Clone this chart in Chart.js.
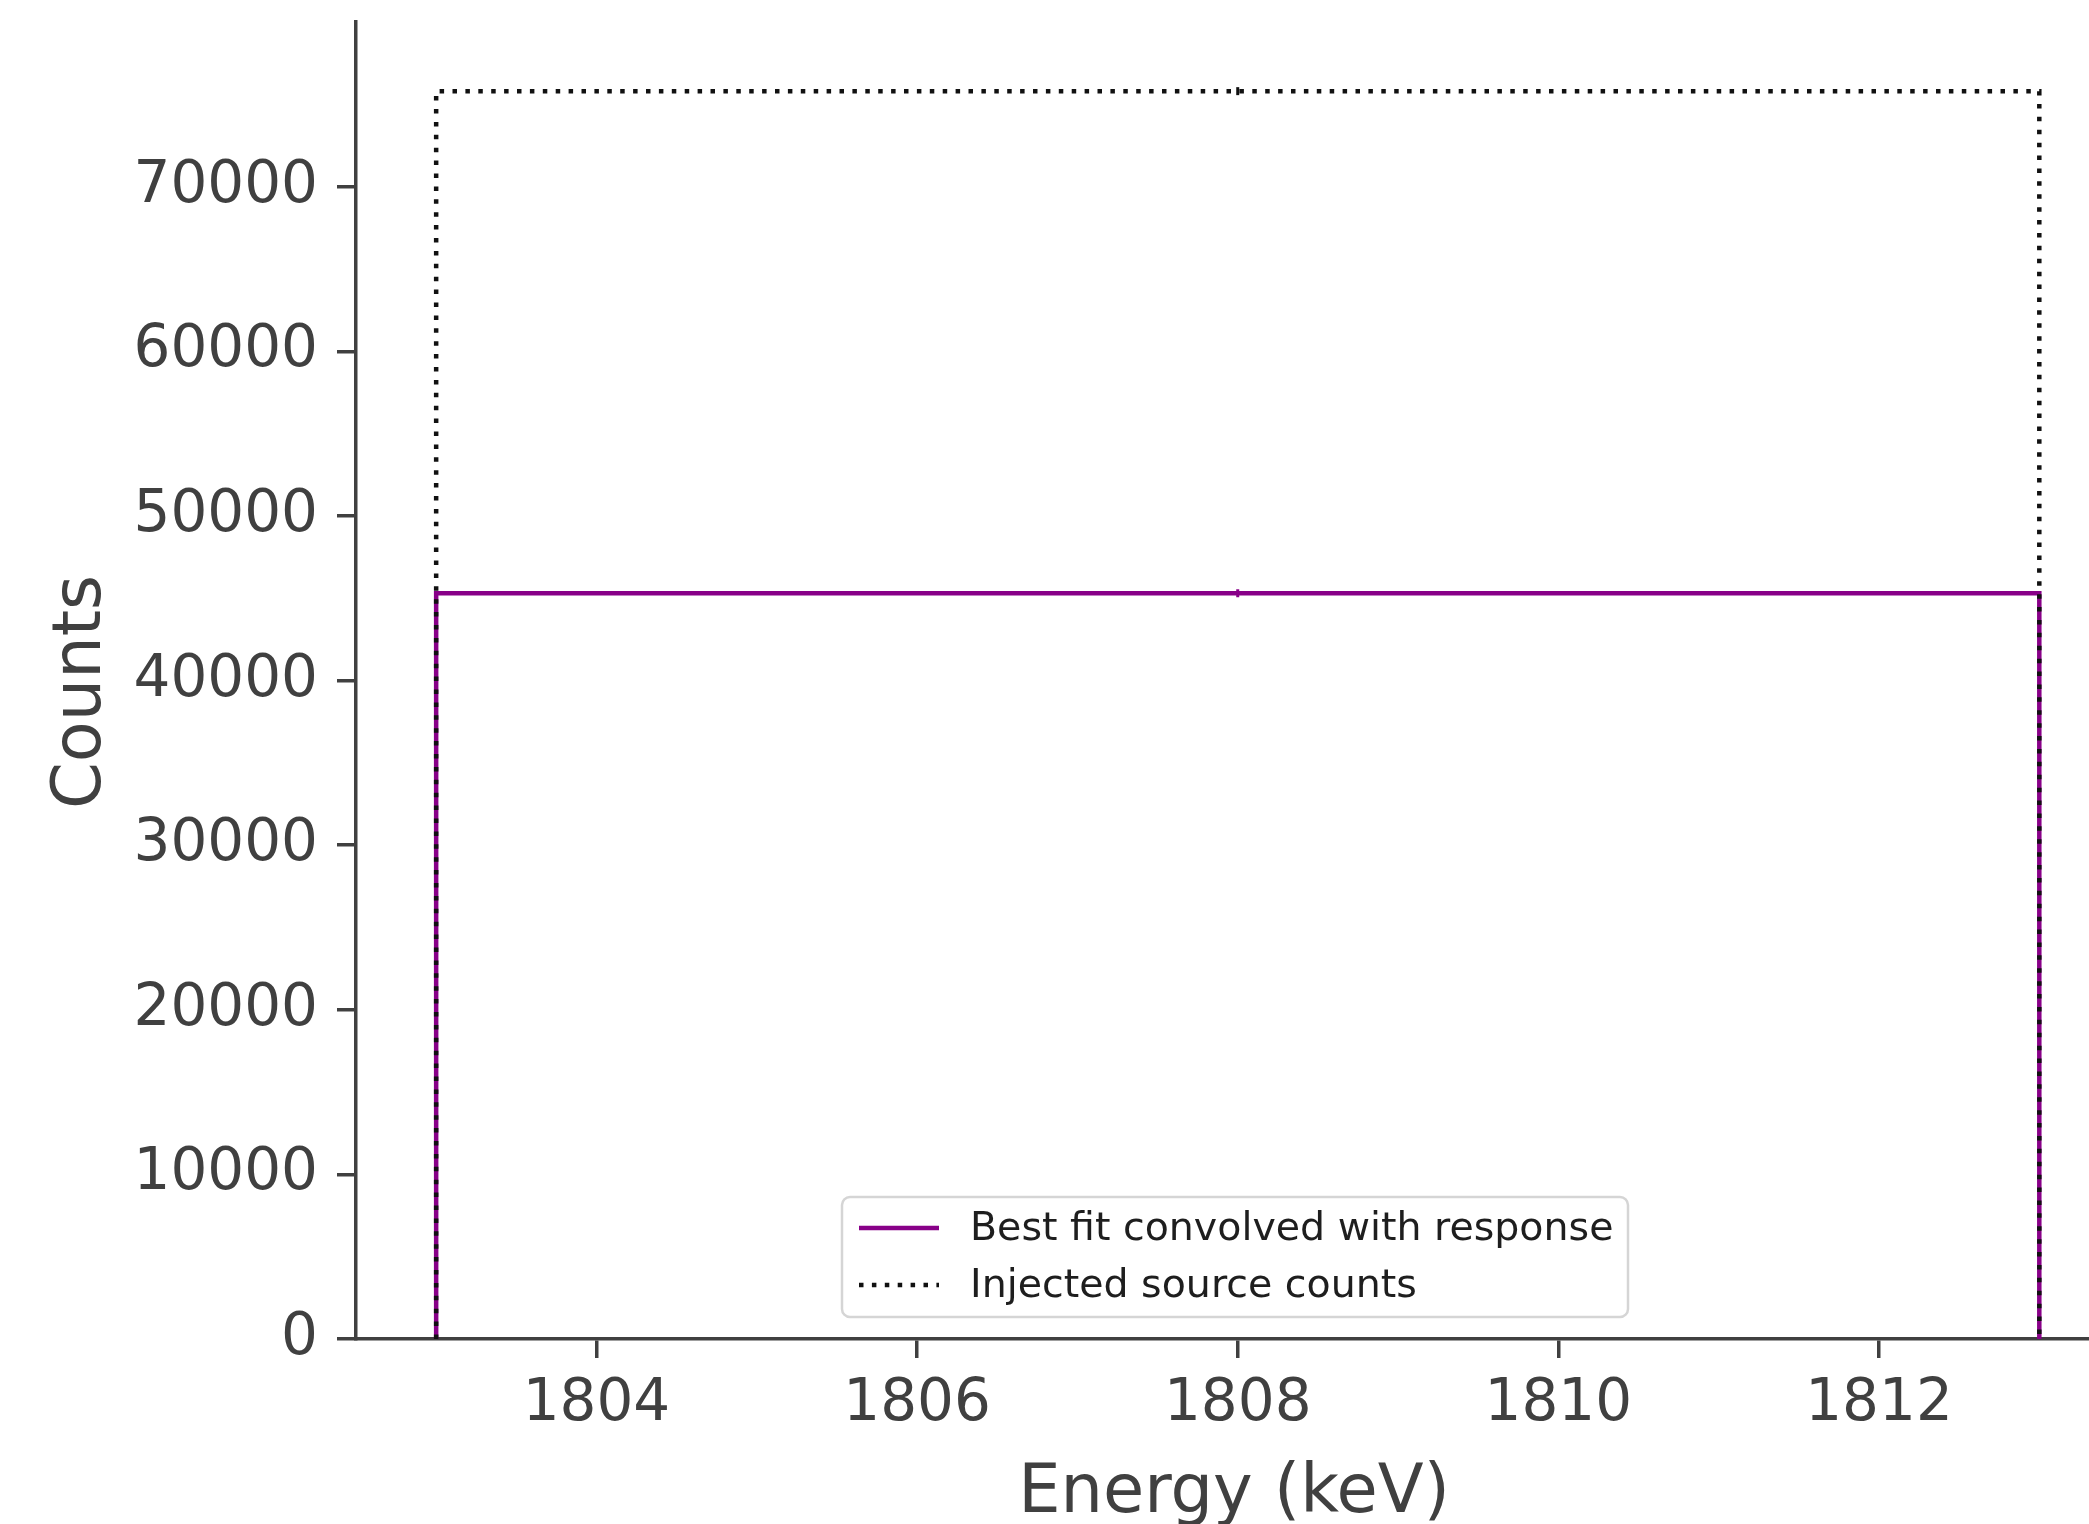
<!DOCTYPE html>
<html>
<head>
<meta charset="utf-8">
<script src="https://cdn.jsdelivr.net/npm/chart.js@4.4.1/dist/chart.umd.min.js"></script>
<style>
  body { margin: 0; background: #fff; }
  #chart { display: block; }
</style>
</head>
<body>
<canvas id="chart" width="2089" height="1524"></canvas>
<script>
// histogram of a single energy bin
const binEdges = [1803, 1813];
const fitCounts = [45300];
const injectedCounts = [75800];
const seriesNames = ['Best fit convolved with response', 'Injected source counts'];
const xTicks = [1804, 1806, 1808, 1810, 1812];
const yTicks = [0, 10000, 20000, 30000, 40000, 50000, 60000, 70000];

const axisColor = '#404040';
const font = 'DejaVu Sans';

// step outline from edges and counts, with a small marker at each bin centre
function stepPoints(edges, counts) {
    let pts = [{x: edges[0], y: 0}];
    for (let i = 0; i < counts.length; i++) {
        let mid = (edges[i] + edges[i + 1]) / 2;
        pts.push({x: edges[i], y: counts[i]});
        pts.push({x: mid, y: counts[i], centre: true});
        pts.push({x: edges[i + 1], y: counts[i]});
    }
    pts.push({x: edges[edges.length - 1], y: 0});
    return pts;
}

function radii(pts) {
    return pts.map(p => p.centre ? 4 : 0);
}

let fitPts = stepPoints(binEdges, fitCounts);
let injPts = stepPoints(binEdges, injectedCounts);

// axis titles + matplotlib style legend
const extras = {
    id: 'extras',
    afterDraw(chart) {
        let ctx = chart.ctx;
        ctx.save();
        ctx.fillStyle = axisColor;
        ctx.font = '67px "' + font + '"';
        ctx.textAlign = 'center';
        ctx.textBaseline = 'alphabetic';
        ctx.fillText('Energy (keV)', 1234, 1512);
        ctx.save();
        ctx.translate(100, 692);
        ctx.rotate(-Math.PI / 2);
        ctx.fillText('Counts', 0, 0);
        ctx.restore();

        // legend box
        let bx = 842, by = 1197, bw = 786, bh = 120;
        ctx.beginPath();
        ctx.roundRect(bx, by, bw, bh, 8);
        ctx.fillStyle = 'rgba(255,255,255,0.85)';
        ctx.fill();
        ctx.strokeStyle = '#d5d5d5';
        ctx.lineWidth = 2.5;
        ctx.stroke();

        ctx.font = '39.5px "' + font + '"';
        ctx.textAlign = 'left';
        ctx.textBaseline = 'middle';
        chart.data.datasets.forEach((ds, i) => {
            let rowY = 1228 + i * 57;
            ctx.beginPath();
            ctx.setLineDash(ds.borderDash || []);
            ctx.strokeStyle = ds.borderColor;
            ctx.lineWidth = ds.borderWidth;
            ctx.moveTo(859, rowY);
            ctx.lineTo(939, rowY);
            ctx.stroke();
            ctx.setLineDash([]);
            ctx.fillStyle = '#1e1e1e';
            ctx.fillText(ds.label, 970, rowY + 2);
        });
        ctx.restore();
    }
};

new Chart(document.getElementById('chart'), {
    type: 'scatter',
    data: {
        datasets: [{
            label: seriesNames[0],
            data: fitPts,
            showLine: true,
            borderColor: '#880088',
            backgroundColor: '#880088',
            borderWidth: 4.5,
            pointRadius: radii(fitPts),
            pointStyle: 'line',
            rotation: 90,
            pointBorderWidth: 3,
            order: 1
        }, {
            label: seriesNames[1],
            data: injPts,
            showLine: true,
            borderColor: '#111',
            backgroundColor: '#111',
            borderWidth: 4.5,
            borderDash: [4.5, 8.4],
            pointRadius: radii(injPts),
            pointStyle: 'line',
            rotation: 90,
            pointBorderWidth: 3,
            order: 0
        }]
    },
    options: {
        responsive: false,
        animation: false,
        layout: { padding: { top: 22, left: 0, right: 0, bottom: 0 } },
        plugins: {
            legend: { display: false },
            tooltip: { enabled: false }
        },
        scales: {
            x: {
                type: 'linear',
                min: 1802.5,
                max: 1813.31,
                afterFit: s => { s.height = 185; s.paddingLeft = 0; s.paddingRight = 0; },
                afterBuildTicks: s => { s.ticks = xTicks.map(v => ({value: v})); },
                border: { color: axisColor, width: 3.5 },
                grid: { drawOnChartArea: false, color: axisColor, lineWidth: 3.5, tickLength: 19 },
                ticks: { color: axisColor, font: { family: font, size: 58 }, padding: 12, maxRotation: 0,
                         callback: v => String(v) }
            },
            y: {
                type: 'linear',
                min: 0,
                max: 80000,
                afterFit: s => { s.width = 356; s.paddingTop = 0; s.paddingBottom = 0; },
                afterBuildTicks: s => { s.ticks = yTicks.map(v => ({value: v})); },
                border: { color: axisColor, width: 3.5 },
                grid: { drawOnChartArea: false, color: axisColor, lineWidth: 3.5, tickLength: 19 },
                ticks: { color: axisColor, font: { family: font, size: 58 }, padding: 19,
                         callback: v => String(v) }
            }
        }
    },
    plugins: [extras]
});
</script>
</body>
</html>
